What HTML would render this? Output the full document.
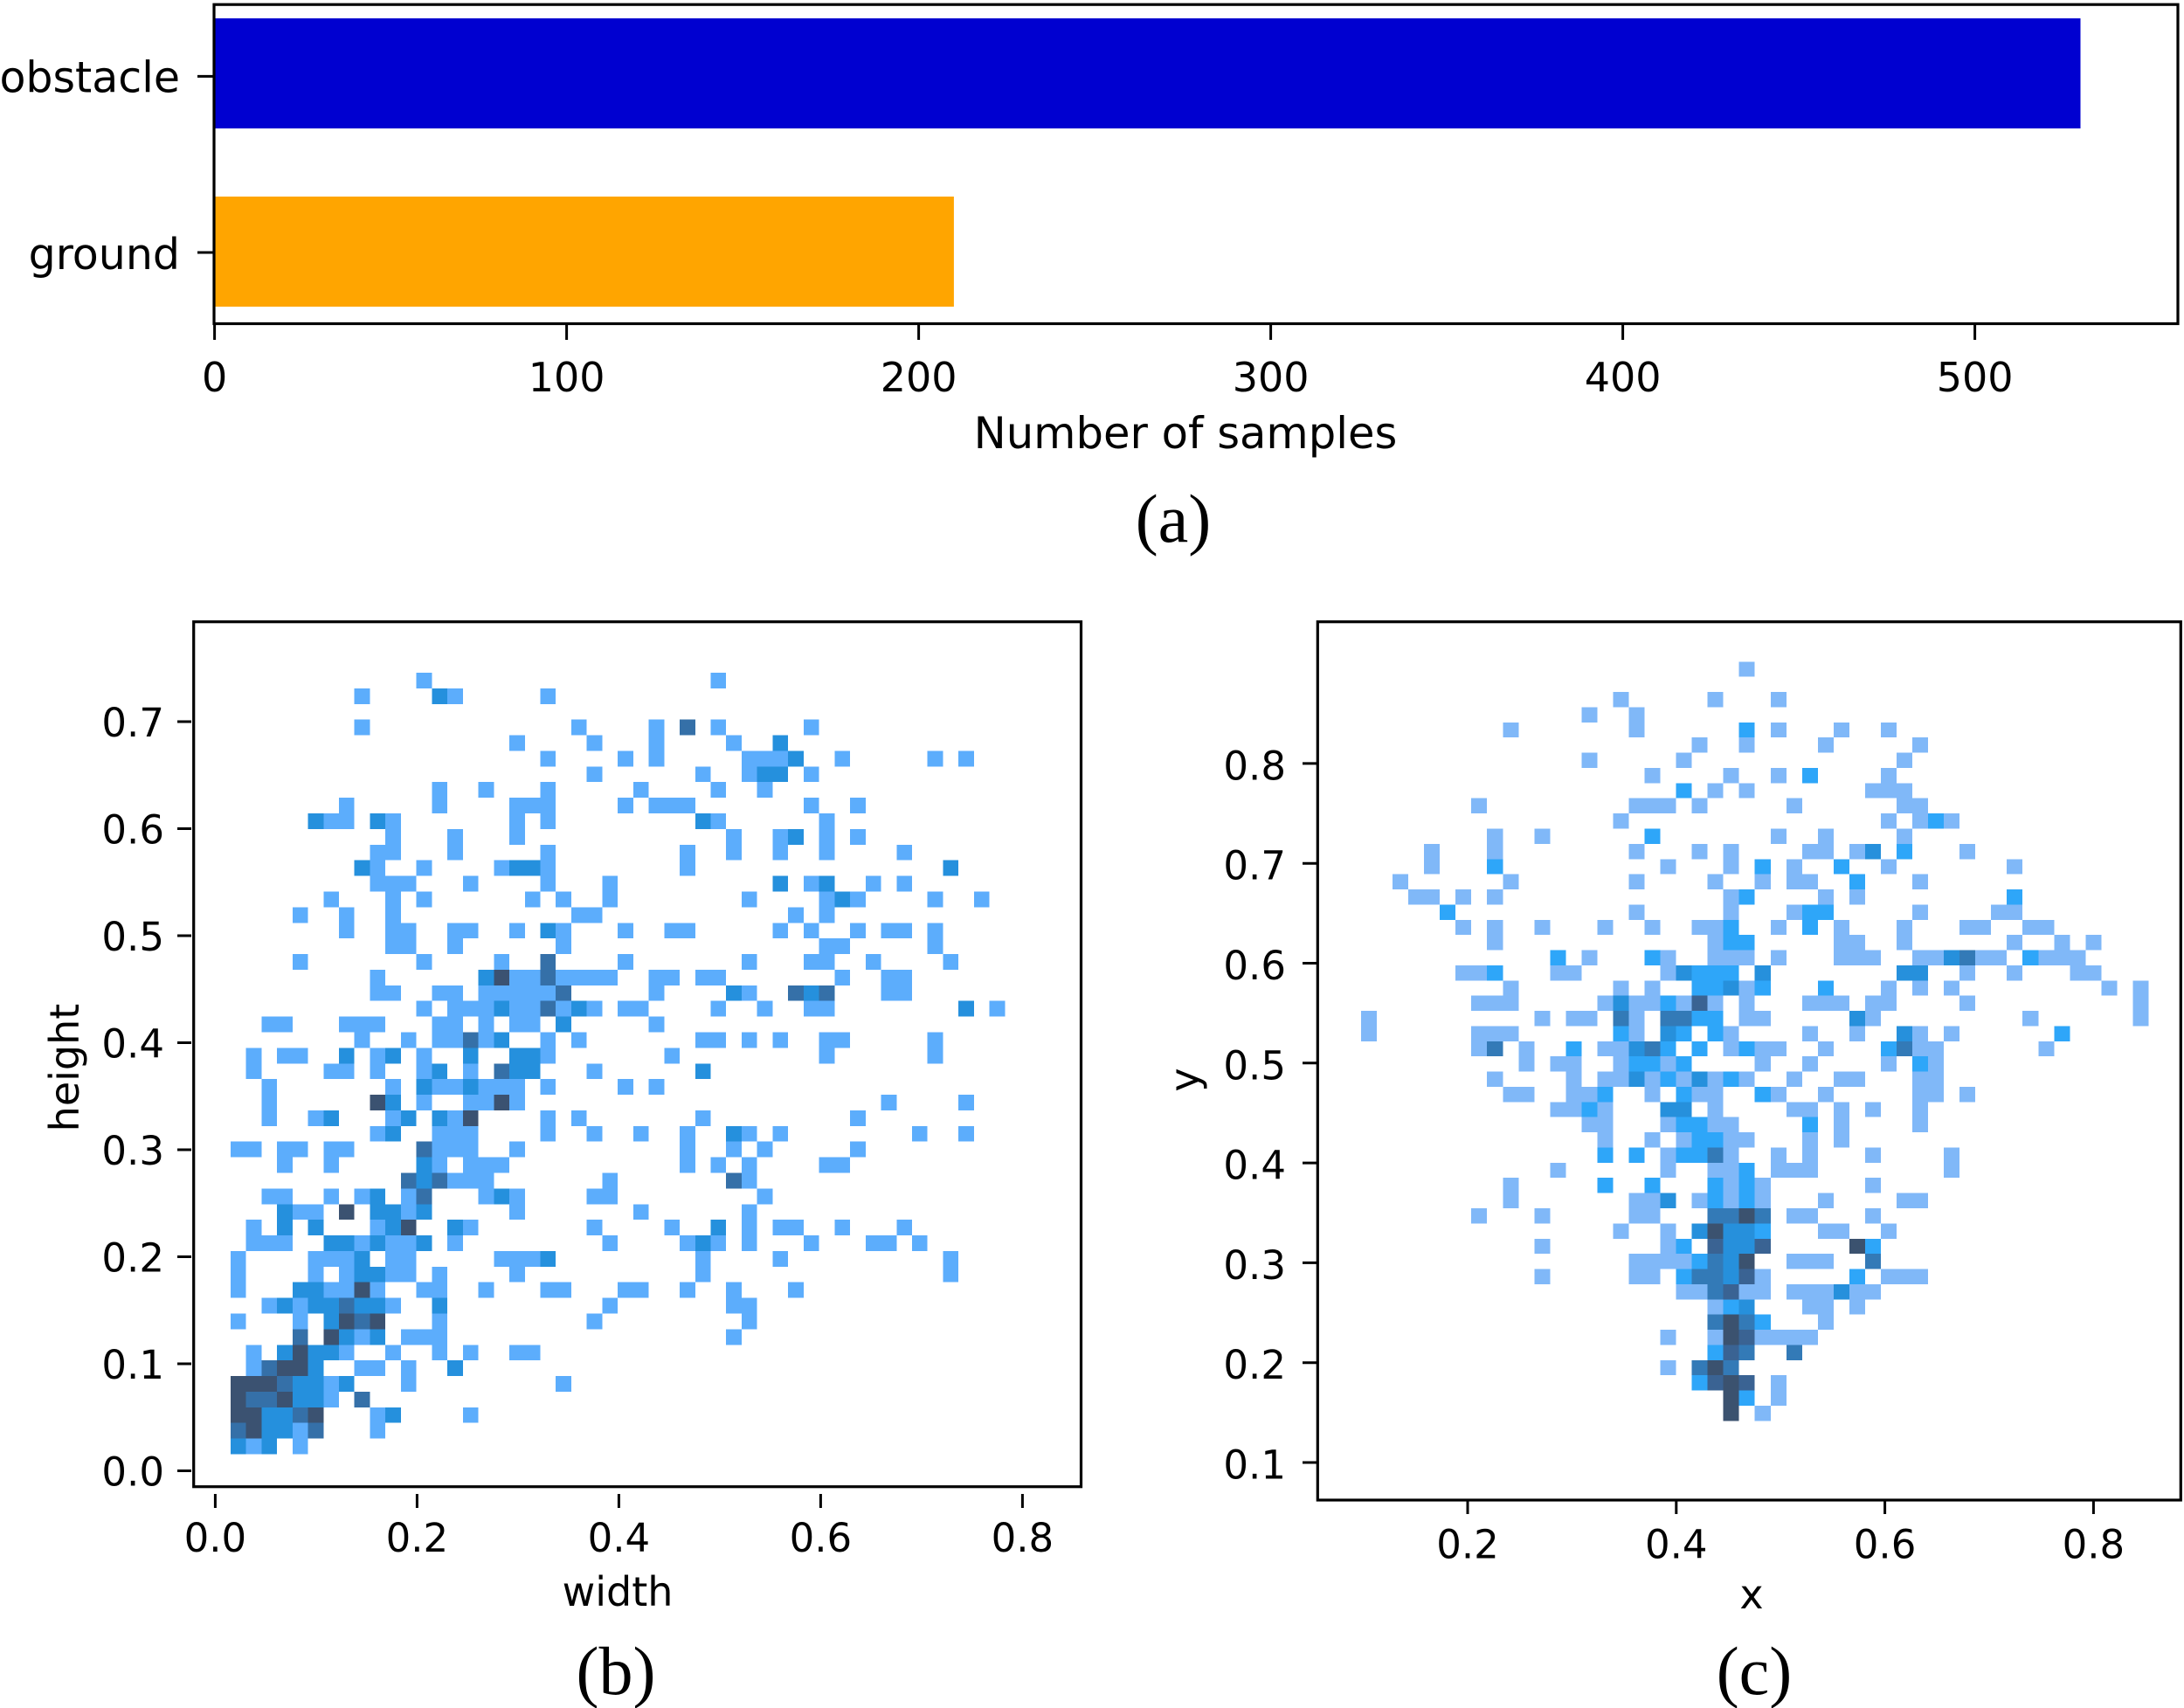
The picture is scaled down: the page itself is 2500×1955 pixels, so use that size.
<!DOCTYPE html>
<html lang="en">
<head>
<meta charset="utf-8">
<title>Dataset statistics: class counts and bounding box distributions</title>
<style>
html,body{margin:0;padding:0;background:#fff;width:2500px;height:1955px;overflow:hidden}
svg{display:block}
text{fill:#000;font-family:"DejaVu Sans",sans-serif}
.t{font-size:46px}
.cap{font-family:"Liberation Serif",serif;font-size:78px}
</style>
</head>
<body>
<svg id="fig" xmlns="http://www.w3.org/2000/svg" width="2500" height="1955" viewBox="0 0 2500 1955">
  <rect x="0" y="0" width="2500" height="1955" fill="#fff"/>

  <g id="panel-a"></g>
  <text x="1357" y="513" text-anchor="middle" style="font-size:49.6px">Number of samples</text>
  <text class="cap" x="1343" y="620" text-anchor="middle">(a)</text>

  <g id="panel-b"></g>
  <text class="t" x="707" y="1838" text-anchor="middle">width</text>
  <text class="t" transform="translate(90 1222) rotate(-90)" text-anchor="middle">height</text>
  <text class="cap" x="705" y="1939" text-anchor="middle">(b)</text>

  <g id="panel-c"></g>
  <text class="t" x="2005" y="1841" text-anchor="middle">x</text>
  <text class="t" transform="translate(1372 1236) rotate(-90)" text-anchor="middle">y</text>
  <text class="cap" x="2008" y="1939" text-anchor="middle">(c)</text>
</svg>
<script>
// ---------- Panel (a) data ----------
const barCategories = ["obstacle", "ground"];
const barValues = [530, 210];
const barXTicks = [0, 100, 200, 300, 400, 500];

// ---------- Panel (b) data: width vs height histogram ----------
const bXTicks = [0.0, 0.2, 0.4, 0.6, 0.8];
const bYTicks = [0.0, 0.1, 0.2, 0.3, 0.4, 0.5, 0.6, 0.7];
const bBinX0 = 0.01515;
const bBinXW = 0.01535;
const bBinYTop = 0.7457;
const bBinYH = 0.014604;
const bCounts = [
[0,0,0,0,0,0,0,0,0,0, 0,0,1,0,0,0,0,0,0,0, 0,0,0,0,0,0,0,0,0,0, 0,1],
[0,0,0,0,0,0,0,0,1,0, 0,0,0,2,1,0,0,0,0,0, 1],
[],
[0,0,0,0,0,0,0,0,1,0, 0,0,0,0,0,0,0,0,0,0, 0,0,1,0,0,0,0,1,0,3, 0,1,0,0,0,0,0,1],
[0,0,0,0,0,0,0,0,0,0, 0,0,0,0,0,0,0,0,1,0, 0,0,0,1,0,0,0,1,0,0, 0,0,1,0,0,2],
[0,0,0,0,0,0,0,0,0,0, 0,0,0,0,0,0,0,0,0,0, 1,0,0,0,0,1,0,1,0,0, 0,0,0,1,1,1,2,0,0,1, 0,0,0,0,0,1,0,1],
[0,0,0,0,0,0,0,0,0,0, 0,0,0,0,0,0,0,0,0,0, 0,0,0,1,0,0,0,0,0,0, 1,0,0,1,2,2,0,1],
[0,0,0,0,0,0,0,0,0,0, 0,0,0,1,0,0,1,0,0,0, 1,0,0,0,0,0,1,0,0,0, 0,1,0,0,1],
[0,0,0,0,0,0,0,1,0,0, 0,0,0,1,0,0,0,0,1,1, 1,0,0,0,0,1,0,1,1,1, 0,0,0,0,0,0,0,1,0,0, 1],
[0,0,0,0,0,2,1,1,0,2, 1,0,0,0,0,0,0,0,1,0, 1,0,0,0,0,0,0,0,0,0, 2,1,0,0,0,0,0,0,1],
[0,0,0,0,0,0,0,0,0,0, 1,0,0,0,1,0,0,0,1,0, 0,0,0,0,0,0,0,0,0,0, 0,0,1,0,0,1,2,0,1,0, 1],
[0,0,0,0,0,0,0,0,0,1, 1,0,0,0,1,0,0,0,0,0, 1,0,0,0,0,0,0,0,0,1, 0,0,1,0,0,1,0,0,1,0, 0,0,0,1],
[0,0,0,0,0,0,0,0,2,1, 0,0,1,0,0,0,0,1,2,2, 1,0,0,0,0,0,0,0,0,1, 0,0,0,0,0,0,0,0,0,0, 0,0,0,0,0,0,2],
[0,0,0,0,0,0,0,0,0,1, 1,1,0,0,0,1,0,0,0,0, 1,0,0,0,1,0,0,0,0,0, 0,0,0,0,0,2,0,1,2,0, 0,1,0,1],
[0,0,0,0,0,0,1,0,0,0, 1,0,1,0,0,0,0,0,0,1, 0,1,0,0,1,0,0,0,0,0, 0,0,0,1,0,0,0,0,1,2, 1,0,0,0,0,1,0,0,1],
[0,0,0,0,1,0,0,1,0,0, 1,0,0,0,0,0,0,0,0,0, 0,0,1,1,0,0,0,0,0,0, 0,0,0,0,0,0,1,0,1],
[0,0,0,0,0,0,0,1,0,0, 1,1,0,0,1,1,0,0,1,0, 2,1,0,0,0,1,0,0,1,1, 0,0,0,0,0,1,0,1,0,0, 1,0,1,1,0,1],
[0,0,0,0,0,0,0,0,0,0, 1,1,0,0,1,0,0,0,0,0, 0,1,0,0,0,0,0,0,0,0, 0,0,0,0,0,0,0,0,1,1, 0,0,0,0,0,1],
[0,0,0,0,1,0,0,0,0,0, 0,0,1,0,0,0,0,1,0,0, 3,0,0,0,0,1,0,0,0,0, 0,0,0,1,0,0,0,1,1,0, 0,1,0,0,0,0,1],
[0,0,0,0,0,0,0,0,0,1, 0,0,0,0,0,0,2,4,1,1, 3,1,1,1,1,0,0,1,1,0, 1,1,0,0,0,0,0,0,0,1, 0,0,1,1],
[0,0,0,0,0,0,0,0,0,1, 1,0,0,1,1,0,1,1,1,1, 1,3,0,0,0,0,0,1,0,0, 0,0,2,1,0,0,3,2,3,0, 0,0,1,1],
[0,0,0,0,0,0,0,0,0,0, 0,0,1,0,1,1,1,2,1,1, 3,1,2,1,0,1,1,0,0,0, 0,1,0,0,1,0,0,1,1,0, 0,0,0,0,0,0,0,2,0,1],
[0,0,1,1,0,0,0,1,1,1, 0,0,0,1,1,0,1,0,1,1, 0,2,0,0,0,0,0,1],
[0,0,0,0,0,0,0,0,1,0, 0,1,0,1,1,3,1,2,0,0, 1,0,1,0,0,0,0,0,0,0, 1,1,0,1,0,1,0,0,1,1, 0,0,0,0,0,1],
[0,1,0,1,1,0,0,2,0,1, 2,0,1,0,0,2,0,0,2,2, 1,0,0,0,0,0,0,0,1,0, 0,0,0,0,0,0,0,0,1,0, 0,0,0,0,0,1],
[0,1,0,0,0,0,1,1,0,1, 0,0,1,2,0,1,0,3,2,2, 0,0,0,1,0,0,0,0,0,0, 2],
[0,0,1,0,0,0,0,0,0,0, 1,0,2,1,1,2,1,1,1,0, 1,0,0,0,0,1,0,1],
[0,0,1,0,0,0,0,0,0,4, 2,0,1,0,0,1,1,4,1,0, 0,0,0,0,0,0,0,0,0,0, 0,0,0,0,0,0,0,0,0,0, 0,0,1,0,0,0,0,1],
[0,0,1,0,0,1,2,0,0,0, 1,2,0,2,1,4,0,0,0,0, 1,0,1,0,0,0,0,0,0,0, 1,0,0,0,0,0,0,0,0,0, 1],
[0,0,0,0,0,0,0,0,0,1, 2,0,0,1,1,1,0,0,0,0, 1,0,0,1,0,0,1,0,0,1, 0,0,2,1,0,1,0,0,0,0, 0,0,0,0,1,0,0,1],
[1,1,0,1,1,0,1,1,0,0, 0,0,3,1,1,1,0,0,1,0, 0,0,0,0,0,0,0,0,0,1, 0,0,1,0,1,0,0,0,0,0, 1],
[0,0,0,1,0,0,1,0,0,0, 0,0,2,1,0,1,1,1,0,0, 0,0,0,0,0,0,0,0,0,1, 0,1,0,1,0,0,0,0,1,1],
[0,0,0,0,0,0,0,0,0,0, 0,3,2,3,1,1,1,0,0,0, 0,0,0,0,1,0,0,0,0,0, 0,0,3,1],
[0,0,1,1,0,0,1,0,1,2, 0,1,3,0,0,0,1,2,1,0, 0,0,0,1,1,0,0,0,0,0, 0,0,0,0,1],
[0,0,0,2,1,1,0,4,0,2, 2,1,2,0,0,0,0,0,1,0, 0,0,0,0,0,0,1,0,0,0, 0,0,0,1],
[0,1,0,2,0,2,0,0,0,1, 2,4,0,0,2,1,0,0,0,0, 0,0,0,1,0,0,0,0,1,0, 0,2,0,1,0,1,1,0,0,1, 0,0,0,1],
[0,1,1,1,0,0,2,2,1,2, 1,1,2,0,1,0,0,0,0,0, 0,0,0,0,1,0,0,0,0,1, 2,1,0,1,0,0,0,1,0,0, 0,1,1,0,1],
[1,0,0,0,0,1,1,1,2,0, 1,1,0,0,0,0,0,1,1,1, 2,0,0,0,0,0,0,0,0,0, 1,0,0,0,0,1,0,0,0,0, 0,0,0,0,0,0,1],
[1,0,0,0,0,1,0,1,2,2, 1,1,0,1,0,0,0,0,1,0, 0,0,0,0,0,0,0,0,0,0, 1,0,0,0,0,0,0,0,0,0, 0,0,0,0,0,0,1],
[1,0,0,0,2,2,1,1,4,1, 0,0,1,1,0,0,1,0,0,0, 1,1,0,0,0,1,1,0,0,1, 0,0,1,0,0,0,1],
[0,0,1,2,1,2,2,3,2,2, 1,0,0,2,0,0,0,0,0,0, 0,0,0,0,1,0,0,0,0,0, 0,0,1,1],
[1,0,0,0,1,0,2,4,3,4, 0,0,0,1,0,0,0,0,0,0, 0,0,0,1,0,0,0,0,0,0, 0,0,0,1],
[0,0,0,0,3,0,4,2,1,2, 0,1,1,1,0,0,0,0,0,0, 0,0,0,0,0,0,0,0,0,0, 0,0,1],
[0,1,0,2,4,2,2,1,0,0, 1,0,0,1,0,1,0,0,1,1],
[0,1,3,4,4,2,0,0,1,1, 0,1,0,0,2],
[4,4,4,3,2,2,1,2,0,0, 0,1,0,0,0,0,0,0,0,0, 0,1],
[4,3,3,4,2,2,1,0,3],
[4,4,2,2,3,4,0,0,0,1, 2,0,0,0,0,1],
[3,4,2,2,1,3,0,0,0,1],
[2,1,2,0,1]
];

// ---------- Panel (c) data: x vs y histogram ----------
const cXTicks = [0.2, 0.4, 0.6, 0.8];
const cYTicks = [0.1, 0.2, 0.3, 0.4, 0.5, 0.6, 0.7, 0.8];
const cBinX0 = 0.09782;
const cBinXW = 0.0151;
const cBinYTop = 0.9020;
const cBinYH = 0.015206;
const cCounts = [
[0,0,0,0,0,0,0,0,0,0, 0,0,0,0,0,0,0,0,0,0, 0,0,0,0,1],
[],
[0,0,0,0,0,0,0,0,0,0, 0,0,0,0,0,0,1,0,0,0, 0,0,1,0,0,0,1],
[0,0,0,0,0,0,0,0,0,0, 0,0,0,0,1,0,0,1],
[0,0,0,0,0,0,0,0,0,1, 0,0,0,0,0,0,0,1,0,0, 0,0,0,0,2,0,1,0,0,0, 1,0,0,1],
[0,0,0,0,0,0,0,0,0,0, 0,0,0,0,0,0,0,0,0,0, 0,1,0,0,1,0,0,0,0,1, 0,0,0,0,0,1],
[0,0,0,0,0,0,0,0,0,0, 0,0,0,0,1,0,0,0,0,0, 1,0,0,0,0,0,0,0,0,0, 0,0,0,0,1],
[0,0,0,0,0,0,0,0,0,0, 0,0,0,0,0,0,0,0,1,0, 0,0,0,1,0,0,1,0,2,0, 0,0,0,1],
[0,0,0,0,0,0,0,0,0,0, 0,0,0,0,0,0,0,0,0,0, 2,0,1,0,1,0,0,0,0,0, 0,0,1,1,1],
[0,0,0,0,0,0,0,1,0,0, 0,0,0,0,0,0,0,1,1,1, 0,1,0,0,0,0,0,1,0,0, 0,0,0,0,1,1],
[0,0,0,0,0,0,0,0,0,0, 0,0,0,0,0,0,1,0,0,0, 0,0,0,0,0,0,0,0,0,0, 0,0,0,1,0,1,2,1],
[0,0,0,0,0,0,0,0,1,0, 0,1,0,0,0,0,0,0,2,0, 0,0,0,0,0,0,1,0,0,1, 0,0,0,0,1],
[0,0,0,0,1,0,0,0,1,0, 0,0,0,0,0,0,0,1,0,0, 0,1,0,1,0,0,0,0,1,1, 0,1,3,0,2,0,0,0,1],
[0,0,0,0,1,0,0,0,2,0, 0,0,0,0,0,0,0,0,0,1, 0,0,0,1,0,2,0,1,0,0, 2,0,0,1,0,0,0,0,0,0, 0,1],
[0,0,1,0,0,0,0,0,0,1, 0,0,0,0,0,0,0,1,0,0, 0,0,1,0,0,1,0,1,1,0, 0,2,0,0,0,1],
[0,0,0,1,1,0,1,0,1,0, 0,0,0,0,0,0,0,0,0,0, 0,0,0,1,2,0,0,0,0,1, 0,1,0,0,0,0,0,0,0,0, 0,2],
[0,0,0,0,0,2,0,0,0,0, 0,0,0,0,0,0,0,1,0,0, 0,0,0,1,0,0,0,1,2,2, 0,0,0,0,0,1,0,0,0,0, 1,1],
[0,0,0,0,0,0,1,0,1,0, 0,1,0,0,0,1,0,0,1,0, 0,1,1,2,0,0,1,0,2,0, 1,0,0,0,1,0,0,0,1,1, 0,0,1,1],
[0,0,0,0,0,0,0,0,1,0, 0,0,0,0,0,0,0,0,0,0, 0,0,1,2,2,0,0,0,0,0, 1,1,0,0,1,0,0,0,0,0, 0,1,0,0,1,0,1],
[0,0,0,0,0,0,0,0,0,0, 0,0,2,0,1,0,0,0,2,1, 0,0,1,1,1,0,1,0,0,0, 1,1,1,0,0,1,1,3,4,1, 1,0,2,1,1,1],
[0,0,0,0,0,0,1,1,2,0, 0,0,1,1,0,0,0,0,0,1, 3,2,2,2,0,3,0,0,0,0, 0,0,0,0,3,3,0,0,1,0, 0,1,0,0,0,1,1],
[0,0,0,0,0,0,0,0,0,1, 0,0,0,0,0,0,1,0,1,0, 0,2,2,3,1,2,0,0,0,2, 0,0,0,1,0,1,0,1,0,0, 0,0,0,0,0,0,0,1,0,1],
[0,0,0,0,0,0,0,1,1,1, 0,0,0,0,0,1,3,1,1,2, 1,5,1,0,1,0,0,0,1,1, 1,0,1,1,0,0,0,0,1,0, 0,0,0,0,0,0,0,0,0,1],
[1,0,0,0,0,0,0,0,0,0, 0,1,0,1,1,0,4,1,0,4, 4,2,2,0,1,1,0,0,0,0, 0,3,1,0,0,0,0,0,0,0, 0,0,1,0,0,0,0,0,0,1],
[1,0,0,0,0,0,0,1,1,1, 0,0,0,0,0,0,2,1,0,3, 2,0,2,1,0,0,0,0,1,0, 0,1,0,0,3,1,0,1,0,0, 0,0,0,0,2],
[0,0,0,0,0,0,0,1,4,0, 1,0,0,2,0,1,1,3,4,2, 0,2,0,1,2,1,1,0,0,1, 0,0,0,2,4,1,1,0,0,0, 0,0,0,1],
[0,0,0,0,0,0,0,0,0,0, 1,0,1,1,0,0,1,2,2,1, 2,0,0,0,0,1,0,0,1,0, 0,0,0,1,0,2,1],
[0,0,0,0,0,0,0,0,1,0, 0,0,0,1,0,1,1,3,1,2, 1,3,1,2,1,0,0,1,0,0, 1,1,0,0,0,1,1],
[0,0,0,0,0,0,0,0,0,1, 1,0,0,1,1,2,0,0,1,0, 2,1,1,0,0,2,1,0,0,1, 0,0,0,0,0,1,1,0,1],
[0,0,0,0,0,0,0,0,0,0, 0,0,1,1,2,1,0,0,0,3, 3,0,1,0,0,0,0,1,1,0, 1,0,1,0,0,1],
[0,0,0,0,0,0,0,0,0,0, 0,0,0,0,1,1,0,0,0,1, 2,2,1,1,0,0,0,0,2,0, 1,0,0,0,0,1],
[0,0,0,0,0,0,0,0,0,0, 0,0,0,0,0,1,0,0,1,0, 1,2,2,1,1,0,0,0,1,0, 1],
[0,0,0,0,0,0,0,0,0,0, 0,0,0,0,0,2,0,2,0,1, 2,2,4,1,0,0,1,0,1,0, 0,0,1,0,0,0,0,1],
[0,0,0,0,0,0,0,0,0,0, 0,0,1,0,0,0,0,0,0,1, 0,0,1,1,2,0,1,1,1,0, 0,0,0,0,0,0,0,1],
[0,0,0,0,0,0,0,0,0,1, 0,0,0,0,0,2,0,0,2,0, 0,0,2,1,2,1,0,0,0,0, 0,0,1],
[0,0,0,0,0,0,0,0,0,1, 0,0,0,0,0,0,0,1,1,3, 0,1,2,1,2,1,0,0,0,1, 0,0,0,0,1,1],
[0,0,0,0,0,0,0,1,0,0, 0,1,0,0,0,0,0,1,1,0, 0,0,4,4,6,4,0,1,1,0, 0,0,1],
[0,0,0,0,0,0,0,0,0,0, 0,0,0,0,0,0,1,0,0,1, 0,3,6,3,3,2,0,0,0,1, 1,0,0,1],
[0,0,0,0,0,0,0,0,0,0, 0,1,0,0,0,0,0,0,0,1, 2,0,5,3,3,5,0,0,0,0, 0,6,2],
[0,0,0,0,0,0,0,0,0,0, 0,0,0,0,0,0,0,1,1,1, 1,2,4,3,6,0,0,1,1,1, 0,0,4],
[0,0,0,0,0,0,0,0,0,0, 0,1,0,0,0,0,0,1,1,0, 2,4,4,3,5,1,0,0,0,0, 0,2,0,1,1,1],
[0,0,0,0,0,0,0,0,0,0, 0,0,0,0,0,0,0,0,0,0, 1,1,4,5,1,1,0,1,1,1, 3,1,1],
[0,0,0,0,0,0,0,0,0,0, 0,0,0,0,0,0,0,0,0,0, 0,0,1,2,3,0,0,0,1,1, 0,1],
[0,0,0,0,0,0,0,0,0,0, 0,0,0,0,0,0,0,0,0,0, 0,0,4,6,4,2,0,0,0,1],
[0,0,0,0,0,0,0,0,0,0, 0,0,0,0,0,0,0,0,0,1, 0,0,1,6,5,1,1,1,1],
[0,0,0,0,0,0,0,0,0,0, 0,0,0,0,0,0,0,0,0,0, 0,0,2,5,4,0,0,4],
[0,0,0,0,0,0,0,0,0,0, 0,0,0,0,0,0,0,0,0,1, 0,4,6,4],
[0,0,0,0,0,0,0,0,0,0, 0,0,0,0,0,0,0,0,0,0, 0,2,5,6,5,0,1],
[0,0,0,0,0,0,0,0,0,0, 0,0,0,0,0,0,0,0,0,0, 0,0,0,6,2,0,1],
[0,0,0,0,0,0,0,0,0,0, 0,0,0,0,0,0,0,0,0,0, 0,0,0,6,0,1]
];

// ---------- Colour ramps (count to fill) ----------
const bRamp = ["none", "#5cadfc", "#2590dd", "#3570a8", "#3b5271"];
const cRamp = ["none", "#80b8f8", "#2ea6f9", "#2690dc", "#337ab7", "#3a6393", "#3b526f"];

// ---------- Axis functions ----------
const aX = v => 245.6 + 4.03 * v;
const aBarY = i => 21 + 204 * i;
const aTickY = i => 87.4 + 201.6 * i;
const bX = v => 246.4 + 1155 * v;
const bY = v => 1683.5 - 1225 * v;
const cX = v => 1441.2 + 1194 * v;
const cY = v => 1788.3 - 1143 * v;

const NS = "http://www.w3.org/2000/svg";
function mk(parent, tag, attrs, txt) {
  const el = document.createElementNS(NS, tag);
  for (const k in attrs) el.setAttribute(k, attrs[k]);
  if (txt !== undefined) el.textContent = txt;
  parent.appendChild(el);
  return el;
}

function drawFrame(parent, l, t, r, b) {
  const el = mk(parent, "rect", {x: l, y: t, width: r - l, height: b - t, fill: "none", stroke: "#000", "stroke-width": 3.2});
  
  
}

function drawXTicks(parent, ticks, xf, axisY, y1, y2, labelY, fmt, size) {
  ticks.forEach(v => {
    const tick = mk(parent, "line", {x1: xf(v), x2: xf(v), y1: y1, y2: y2, stroke: "#000", "stroke-width": 3});
    
    
    const label = mk(parent, "text", {x: xf(v), y: labelY, "text-anchor": "middle", style: "font-size:" + size + "px"}, fmt(v));
    
    
  });
}

function drawYTicks(parent, ticks, yf, x1, x2, labelX, labelDy, fmt, size) {
  ticks.forEach(v => {
    const tick = mk(parent, "line", {x1: x1, x2: x2, y1: yf(v), y2: yf(v), stroke: "#000", "stroke-width": 3});
    
    
    const label = mk(parent, "text", {x: labelX, y: yf(v) + labelDy, "text-anchor": "end", style: "font-size:" + size + "px"}, fmt(v));
    
    
  });
}

function drawCells(parent, counts, ramp, xf, yf, x0, xw, yTop, yh) {
  counts.forEach((row, r) => {
    row.forEach((n, c) => {
      if (!n) return;
      const px0 = xf(x0 + c * xw), px1 = xf(x0 + (c + 1) * xw);
      const py0 = yf(yTop - r * yh), py1 = yf(yTop - (r + 1) * yh);
      const fill = ramp[Math.min(Math.round(n), ramp.length - 1)];
      const cell = mk(parent, "rect", {x: px0, y: py0, width: px1 - px0, height: py1 - py0, fill: fill, "shape-rendering": "crispEdges"});
      
      
    });
  });
}

// ---------- Panel (a) ----------
const pa = document.getElementById("panel-a");
const barFills = ["#0000d0", "#ffa500"];
const catLabelDy = [18, 19];
barCategories.forEach((cat, i) => {
  const bar = mk(pa, "rect", {x: aX(0), y: aBarY(i), width: aX(barValues[i]) - aX(0), height: 126, fill: barFills[i]});
  
  
  const tick = mk(pa, "line", {x1: 226, x2: 245, y1: aTickY(i), y2: aTickY(i), stroke: "#000", "stroke-width": 3});
  
  
  const label = mk(pa, "text", {x: 206, y: aTickY(i) + catLabelDy[i], "text-anchor": "end", style: "font-size:49px"}, cat);
  
  
});
drawFrame(pa, 245, 5.2, 2493, 370.5);
drawXTicks(pa, barXTicks, aX, 370.5, 371, 389, 448, v => String(v), 46);

// ---------- Panel (b) ----------
const pb = document.getElementById("panel-b");
drawCells(pb, bCounts, bRamp, bX, bY, bBinX0, bBinXW, bBinYTop, bBinYH);
drawFrame(pb, 221.7, 711.7, 1237.5, 1701.7);
drawXTicks(pb, bXTicks, bX, 1701.7, 1710, 1726, 1776, v => v.toFixed(1), 45);
drawYTicks(pb, bYTicks, bY, 203, 219, 188, 17, v => v.toFixed(1), 45);

// ---------- Panel (c) ----------
const pc = document.getElementById("panel-c");
drawCells(pc, cCounts, cRamp, cX, cY, cBinX0, cBinXW, cBinYTop, cBinYH);
drawFrame(pc, 1508.3, 711.7, 2496.3, 1717);
drawXTicks(pc, cXTicks, cX, 1717, 1717, 1733, 1783.5, v => v.toFixed(1), 45);
drawYTicks(pc, cYTicks, cY, 1491, 1508, 1472, 18.5, v => v.toFixed(1), 45);
</script>
</body>
</html>
